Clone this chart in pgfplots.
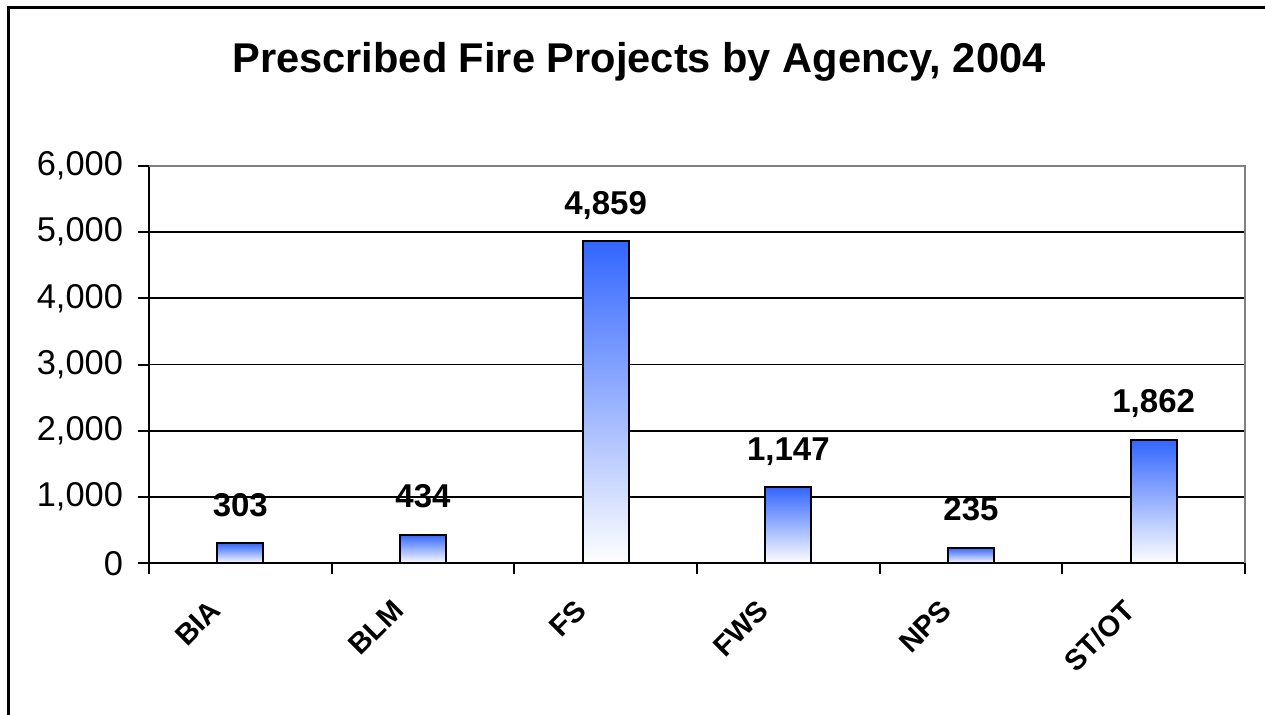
\documentclass[border=0pt]{standalone}
\usepackage{pgfplots}
\pgfplotsset{compat=1.18}
\usepackage{fontspec}
\setmainfont{Liberation Sans}
\definecolor{barblue}{RGB}{51,102,255}
\pgfplotsset{fsbar/.style={draw=black, line width=1pt, top color=barblue, bottom color=white, shading=axis, bar shift=0pt}}

\begin{document}
\begin{tikzpicture}
\path[use as bounding box] (0,0) rectangle (632.5pt,-357pt);
% outer chart frame (cut off at right and bottom)
\draw[line width=1.5pt] (4.25pt,-400pt) -- (4.25pt,-3.5pt) -- (700pt,-3.5pt);
\begin{axis}[
  at={(74.5pt,-281.65pt)}, anchor=south west,
  scale only axis, width=548pt, height=198.8pt,
  ybar, bar width=23pt,
  xmin=-0.5, xmax=5.5, ymin=0, ymax=6000,
  xtick={0,...,5},
  xticklabels={BIA,BLM,FS,FWS,NPS,ST/OT},
  minor xtick={-0.5,0.5,...,5.5},
  major x tick style={draw=none},
  minor x tick style={line width=1pt, black},
  ytick={0,1000,...,6000},
  tick align=outside,
  major tick length=5.5pt, minor tick length=5.5pt,
  y tick style={line width=1pt, black},
  scaled y ticks=false,
  /pgf/number format/.cd, 1000 sep={,}, assume math mode=true, /pgfplots/.cd,
  ymajorgrids, grid style={line width=0.9pt, black},
  axis line style={line width=1pt},
  axis x line*=bottom, axis y line*=left,
  yticklabel style={font=\fontsize{17.2}{19}\selectfont, xshift=-4pt},
  xticklabel style={font=\fontsize{14.5}{17}\selectfont\bfseries, xshift=-16pt, yshift=-7pt, rotate=45, anchor=north east},
  nodes near coords,
  nodes near coords style={font=\fontsize{16.5}{18}\selectfont\bfseries, text=black, anchor=base, inner sep=0pt, yshift=13.5pt},
  clip=false,
]
\draw[gray, line width=1pt] (rel axis cs:0,1) -- (rel axis cs:1,1) -- (rel axis cs:1,0);
\addplot[fsbar] coordinates {(0,303)};
\addplot[fsbar] coordinates {(1,434)};
\addplot[fsbar] coordinates {(2,4859)};
\addplot[fsbar] coordinates {(3,1147)};
\addplot[fsbar] coordinates {(4,235)};
\addplot[fsbar] coordinates {(5,1862)};
\end{axis}
\node[font=\fontsize{20.8}{24}\selectfont\bfseries, anchor=base] at (319.5pt,-36pt) {Prescribed Fire Projects by Agency, 2004};
\end{tikzpicture}
\end{document}
